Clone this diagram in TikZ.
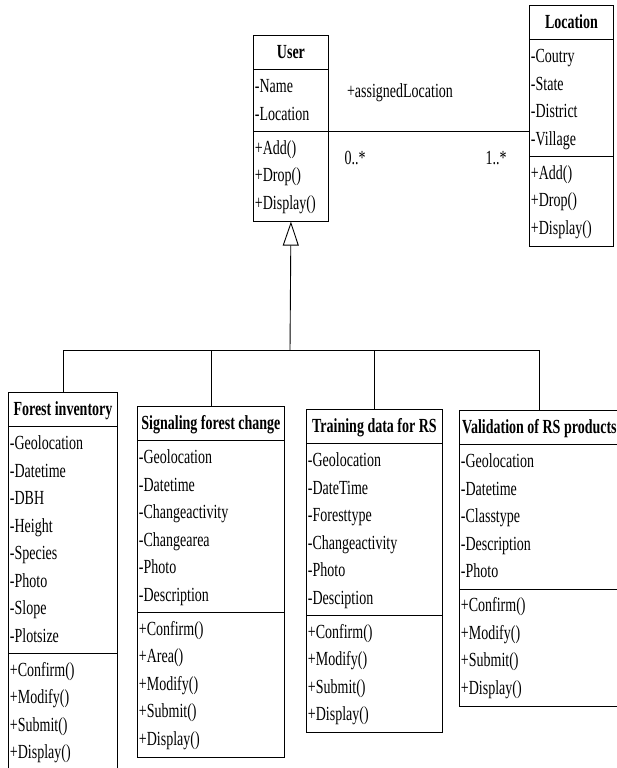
\documentclass[tikz,border=0pt]{standalone}
\usepackage{fontspec}
\setmainfont{Liberation Serif}[FakeStretch=0.7]
\usetikzlibrary{shapes.multipart,arrows.meta}
\newcommand{\members}[1]{\begin{tabular}{@{}l@{}}#1\end{tabular}}
\tikzset{
	umlclass/.style={draw, line width=0.9pt, rectangle split, rectangle split parts=3,
		rectangle split part align={center,left,left}, inner xsep=1.5pt, inner ysep=3pt,
		anchor=north west, font=\fontsize{20}{27.5}\selectfont},
	lbl/.style={font=\fontsize{20}{27.5}\selectfont, inner sep=0pt}
}
\begin{document}
\begin{tikzpicture}[x=1pt,y=-1pt]
			\useasboundingbox (0,0) rectangle (616,768);
			\node[umlclass, minimum width=75pt] (user) at (253,35) {\strut\textbf{User}
				\nodepart{second}\members{-Name\\-Location}
				\nodepart{third}\members{+Add()\\+Drop()\\+Display()}};
			\node[umlclass, minimum width=84pt] (location) at (529,5) {\strut\textbf{Location}
				\nodepart{second}\members{-Coutry\\-State\\-District\\-Village}
				\nodepart{third}\members{+Add()\\+Drop()\\+Display()}};

			\draw[line width=0.9pt] (user.second split east) -- (user.second split east -| location.west);
			\node[lbl] (role) at (400,93) {+assignedLocation};
			\node[lbl] (multu) at (355,158) {0..*};
			\node[lbl] (multl) at (496,158) {1..*};

			\node[umlclass, minimum width=109pt] (forest) at (8,392) {\strut\textbf{Forest inventory}
				\nodepart{second}\members{-Geolocation\\-Datetime\\-DBH\\-Height\\-Species\\-Photo\\-Slope\\-Plotsize}
				\nodepart{third}\members{+Confirm()\\+Modify()\\+Submit()\\+Display()}};
			\node[umlclass, minimum width=147pt] (signal) at (137,406) {\strut\textbf{Signaling forest change}
				\nodepart{second}\members{-Geolocation\\-Datetime\\-Changeactivity\\-Changearea\\-Photo\\-Description}
				\nodepart{third}\members{+Confirm()\\+Area()\\+Modify()\\+Submit()\\+Display()}};
			\node[umlclass, minimum width=136pt] (train) at (306,409) {\strut\textbf{Training data for RS}
				\nodepart{second}\members{-Geolocation\\-DateTime\\-Foresttype\\-Changeactivity\\-Photo\\-Desciption}
				\nodepart{third}\members{+Confirm()\\+Modify()\\+Submit()\\+Display()}};
			\node[umlclass, minimum width=160pt] (valid) at (459,410) {\strut\textbf{Validation of RS products}
				\nodepart{second}\members{-Geolocation\\-Datetime\\-Classtype\\-Description\\-Photo}
				\nodepart{third}\members{+Confirm()\\+Modify()\\+Submit()\\+Display()}};

			\coordinate (bus) at (290,350);
			\draw[line width=0.9pt, -{Triangle[open, length=24pt, width=16pt]}] (bus) -- (user.south);
			\foreach \c in {forest,signal,train,valid}
				\draw[line width=0.9pt] (bus) -| (\c.north);
		\end{tikzpicture}
\end{document}
